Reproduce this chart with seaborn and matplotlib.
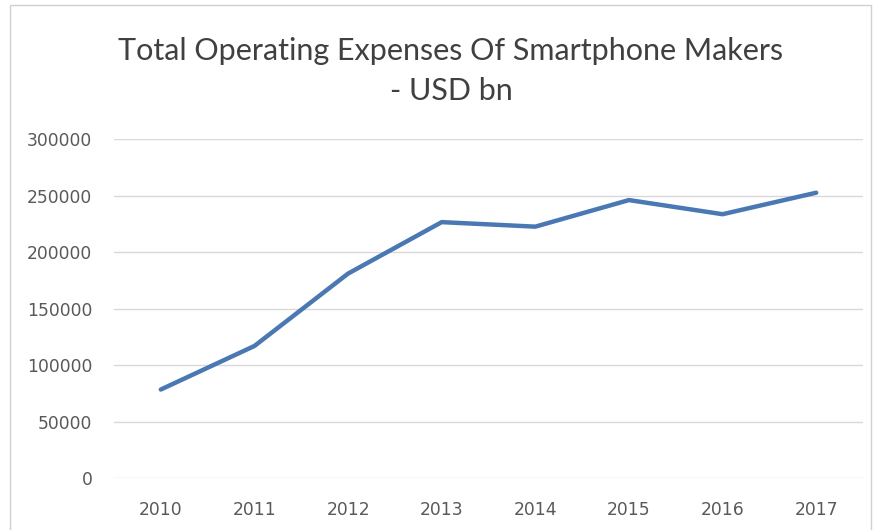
import matplotlib
matplotlib.use("Agg")
import matplotlib.pyplot as plt
import seaborn as sns
import pandas as pd
from matplotlib.patches import Rectangle

years = ["2010", "2011", "2012", "2013", "2014", "2015", "2016", "2017"]
expenses = [78500, 117000, 181000, 226500, 222500, 246000, 233500, 252500]
yticks = [0, 50000, 100000, 150000, 200000, 250000, 300000]
title = "Total Operating Expenses Of Smartphone Makers\n- USD bn"

sns.set_theme(style="white")
plt.rcParams['font.family'] = ['Lato', 'DejaVu Sans']

df = pd.DataFrame({"year": years, "value": expenses})

fig = plt.figure(figsize=(8.77, 5.30), dpi=100)
ax = fig.add_axes([114/877, 1 - 478.3/530, (863 - 114)/877, (478.3 - 139)/530])

sns.lineplot(data=df, x="year", y="value", ax=ax, color="#4a78b3", linewidth=3.2,
             sort=False)

ax.set_xlim(-0.5, len(years) - 0.5)
ax.set_ylim(0, 300000)
ax.set_yticks(yticks)
ax.set_yticklabels([str(v) for v in yticks])
ax.yaxis.grid(True, color="#d9d9d9", linewidth=1.0)
ax.xaxis.grid(False)
ax.set_axisbelow(True)
for s in ax.spines.values():
    s.set_visible(False)
ax.tick_params(axis="both", length=0, colors="#595959", labelsize=12.3)
for lab in ax.get_xticklabels() + ax.get_yticklabels():
    lab.set_family("DejaVu Sans")
ax.tick_params(axis="y", pad=15.5)
ax.tick_params(axis="x", pad=16)
ax.set_xlabel("")
ax.set_ylabel("")

fig.text(451/877, 1 - 71/530, title, ha="center", va="center", fontsize=22,
         color="#404040", linespacing=1.52)

fig.patches.append(Rectangle((10/877, -0.1), (871 - 10)/877, 1.1 - 5/530,
                             transform=fig.transFigure, fill=False,
                             edgecolor="#d0d0d0", linewidth=1.0))

fig.savefig("out.png", dpi=100, facecolor="white")
